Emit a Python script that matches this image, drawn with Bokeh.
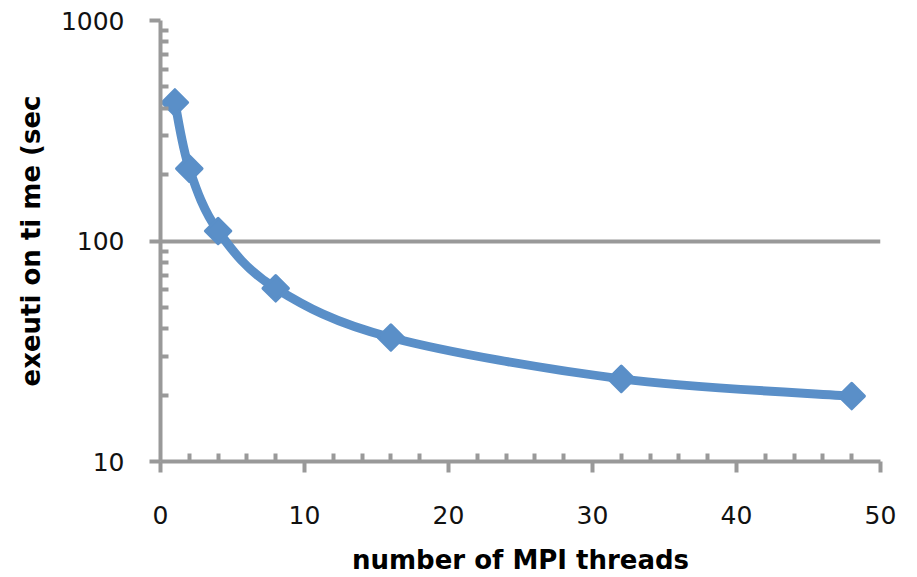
import numpy as np
from bokeh.plotting import figure
from bokeh.models import FixedTicker, Range1d
from bokeh.embed import file_html
from bokeh.resources import INLINE

# ---- data ----
threads = [1, 2, 4, 8, 16, 32, 48]
exec_time = [425, 213, 111, 61, 36.5, 23.7, 19.8]

x_ticks = [0, 10, 20, 30, 40, 50]
x_minor_ticks = [2, 4, 6, 8, 12, 14, 16, 18, 22, 24, 26, 28, 32, 34, 36, 38, 42, 44, 46, 48]
y_ticks = [10, 100, 1000]
y_minor_ticks = [20, 30, 40, 50, 60, 70, 80, 90, 200, 300, 400, 500, 600, 700, 800, 900]

x_label = "number of MPI threads"
y_label = "exeuti on ti me (sec"

LINE_COLOR = "#5A8FC8"
AXIS_COLOR = "#999999"
FONT = "DejaVu Sans"

p = figure(width=917, height=577, y_axis_type="log",
           x_range=Range1d(0, 50), y_range=Range1d(10, 1000),
           output_backend="svg", toolbar_location=None,
           min_border_left=160, min_border_right=37,
           min_border_top=20, min_border_bottom=116)
p.outline_line_color = None
p.background_fill_color = "white"
p.border_fill_color = "white"

# smoothed line (Bezier segments through the data points, in screen-linear space)
lx = np.array(threads, dtype=float)
ly = np.log10(np.array(exec_time, dtype=float))
n = len(lx)


def pt(i):
    i = min(max(i, 0), n - 1)
    return lx[i], ly[i]


bx0, by0, bx1, by1, bcx0, bcy0, bcx1, bcy1 = ([] for _ in range(8))
for i in range(n - 1):
    x0, y0 = pt(i)
    x1, y1 = pt(i + 1)
    xm, ym = pt(i - 1)
    xp, yp = pt(i + 2)
    bx0.append(x0); by0.append(10 ** y0)
    bx1.append(x1); by1.append(10 ** y1)
    bcx0.append(x0 + (x1 - xm) / 6); bcy0.append(10 ** (y0 + (y1 - ym) / 6))
    bcx1.append(x1 - (xp - x0) / 6); bcy1.append(10 ** (y1 - (yp - y0) / 6))

p.bezier(x0=bx0, y0=by0, x1=bx1, y1=by1, cx0=bcx0, cy0=bcy0, cx1=bcx1, cy1=bcy1,
         line_color=LINE_COLOR, line_width=9, line_cap="round")

p.scatter(threads, exec_time, marker="square", angle=np.pi / 4, size=18,
          fill_color=LINE_COLOR, line_color=LINE_COLOR, line_width=3, line_join="round")

# grid
p.xgrid.grid_line_color = None
p.ygrid.grid_line_color = AXIS_COLOR
p.ygrid.grid_line_width = 4
p.ygrid.minor_grid_line_color = None

# axes
p.xaxis.ticker = FixedTicker(ticks=x_ticks, minor_ticks=x_minor_ticks)
p.yaxis.ticker = FixedTicker(ticks=y_ticks, minor_ticks=y_minor_ticks)
p.ygrid.ticker = FixedTicker(ticks=y_ticks)

for ax in (p.xaxis, p.yaxis):
    ax.axis_line_color = AXIS_COLOR
    ax.axis_line_width = 4
    ax.major_tick_line_color = AXIS_COLOR
    ax.major_tick_line_width = 4
    ax.minor_tick_line_color = AXIS_COLOR
    ax.minor_tick_line_width = 4
    ax.major_tick_in = 0
    ax.major_tick_out = 11
    ax.minor_tick_in = 8
    ax.minor_tick_out = 0
    ax.major_label_text_font = FONT
    ax.major_label_text_font_size = "25px"
    ax.major_label_text_color = "#111111"
    ax.axis_label_text_font = FONT
    ax.axis_label_text_font_size = "26px"
    ax.axis_label_text_font_style = "bold"
    ax.axis_label_text_color = "black"

p.xaxis.major_label_standoff = 33
p.yaxis.major_label_standoff = 25
p.yaxis.major_label_overrides = {10: "10", 100: "100", 1000: "1000"}
p.xaxis.axis_label = x_label
p.yaxis.axis_label = y_label
p.xaxis.axis_label_standoff = 18
p.yaxis.axis_label_standoff = 12

open("out.html", "w").write(file_html(p, INLINE))
